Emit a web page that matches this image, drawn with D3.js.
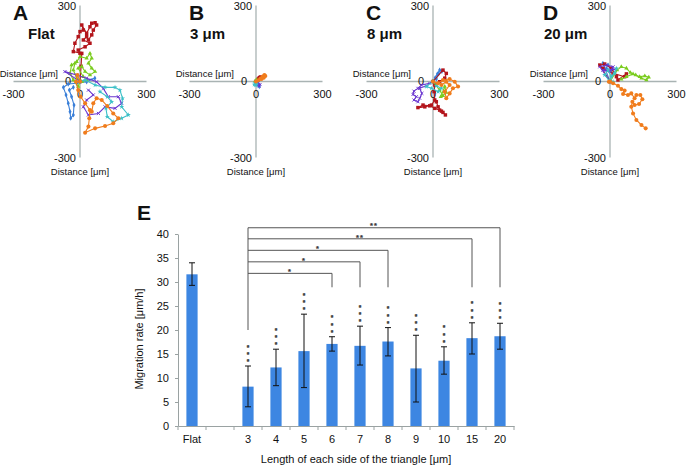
<!DOCTYPE html>
<html>
<head>
<meta charset="utf-8">
<script src="https://cdn.jsdelivr.net/npm/d3@7"></script>
<style>
  body { margin: 0; background: #fff; }
  text { font-family: Arial, "Liberation Sans", sans-serif; fill: #111; }
</style>
</head>
<body>
<svg width="687" height="467"></svg>
<script>
// trajectory panels
var panelNames = ['A', 'B', 'C', 'D'];
var panelTitles = ['Flat', '3 μm', '8 μm', '20 μm'];
var trackColors = ['#3a7fd8', '#b3151b', '#7acc1e', '#6a35d0', '#3cc0c8', '#f07c1c'];
var trackSymbols = ['diamond', 'square', 'triangle', 'x', 'star', 'circle'];

// each track starts at the origin; order: blue, red, green, purple, cyan, orange
var tracksA = [
  [[67,13],[30,-1],[-15,-7],[-53,-10],[-75,-23],[-63,-53],[-53,-86],[-45,-119],[-42,-145],[-30,-132],[-27,-93],[-38,-60],[-48,-34],[-30,-23]],
  [[5,60],[8,111],[-30,118],[-23,151],[-8,177],[0,197],[15,203],[8,223],[30,190],[45,216],[53,230],[68,232],[75,223],[60,203],[53,184],[38,164],[30,177],[15,164],[45,151],[23,137],[-8,124],[0,111]],
  [[-8,-20],[-30,6],[-45,32],[-38,65],[-15,78],[0,98],[30,92],[45,111],[53,92],[38,72],[53,52],[68,39],[45,26],[23,39],[8,59],[-8,52],[15,19],[30,6],[8,-1],[-15,13],[-30,45],[-23,72]],
  [[-68,39],[-15,26],[30,13],[75,-1],[105,-27],[128,-60],[173,-60],[188,-86],[158,-106],[113,-100],[83,-126],[38,-132],[15,-100],[30,-73],[60,-53],[38,-34]],
  [[23,6],[68,-14],[113,-23],[158,-23],[180,-34],[192,-66],[188,-100],[218,-132],[188,-145],[150,-159],[123,-139],[117,-106],[143,-80],[123,-60],[90,-40]],
  [[-12,26],[-18,-1],[-8,-34],[3,-60],[23,-86],[45,-113],[42,-145],[38,-178],[23,-202],[68,-185],[113,-176],[150,-165],[173,-145],[150,-126],[123,-97],[98,-73],[75,-66],[60,-86],[53,-119]]
];
var tracksB = [
  [[5,-8],[12,-15],[15,-20],[8,-12]],
  [[8,8],[15,15],[20,18],[12,10]],
  [[-3,3],[2,6]],
  [[10,-5],[18,-12],[14,-18],[6,-10]],
  [[-5,-6],[-8,-12],[-2,-15],[3,-8]],
  [[10,5],[20,12],[30,20],[38,26],[42,22],[35,15],[25,10]]
];
var tracksC = [
  [[10,15],[20,30],[30,45],[40,40],[25,30],[15,10]],
  [[45,45],[60,32],[53,13],[30,-1],[8,-14],[5,-40],[8,-73],[-7,-93],[-37,-100],[-68,-103],[-45,-93],[-15,-96],[8,-106],[30,-113],[45,-122],[56,-132],[38,-117],[23,-100],[15,-80]],
  [[30,-34],[45,-56],[60,-43],[53,-20],[35,-60]],
  [[-15,-7],[-52,-14],[-68,-27],[-86,-38],[-90,-51],[-75,-60],[-86,-73],[-68,-80],[-60,-66],[-50,-47],[-60,-27],[-30,-17]],
  [[-30,-20],[-7,-27],[23,-40],[38,-27],[15,-17]],
  [[23,-7],[45,6],[75,10],[98,-1],[113,-20],[90,-27],[75,-47],[60,-66],[53,-40],[75,-14],[60,-1],[38,-14]]
];
var tracksD = [
  [[-32,72],[-9,65],[6,45],[-16,52]],
  [[-46,65],[-24,69],[6,52],[29,19],[36,6],[74,30],[66,19],[14,32],[-32,52]],
  [[32,45],[51,58],[74,52],[92,35],[116,26],[134,19],[157,22],[175,17],[164,6],[142,13],[104,30],[74,19],[51,9]],
  [[-46,58],[-16,65],[14,58],[-1,39],[-32,45],[21,48]],
  [[-24,26],[-9,45],[6,19],[21,32],[29,52],[-1,6],[14,-1]],
  [[-5,-1],[14,-7],[36,-17],[51,-30],[66,-36],[59,-49],[81,-53],[96,-47],[111,-66],[119,-53],[137,-53],[146,-70],[131,-89],[111,-93],[101,-80],[96,-100],[104,-126],[119,-152],[142,-172],[161,-185]]
];
var allTracks = [tracksA, tracksB, tracksC, tracksD];

// bar chart E
var barCats = ['Flat', '', '3', '4', '5', '6', '7', '8', '9', '10', '15', '20'];
var barValues = [31.6, null, 8.2, 12.2, 15.6, 17.1, 16.7, 17.6, 12.0, 13.6, 18.3, 18.7];
var errLow = [29.3, null, 4.0, 8.4, 8.0, 15.6, 12.7, 14.6, 5.0, 10.8, 15.0, 16.0];
var errHigh = [34.0, null, 12.5, 16.0, 23.3, 18.6, 20.8, 20.5, 18.9, 16.5, 21.5, 21.4];
var sigMarks = ['', '', '***', '***', '***', '***', '***', '***', '***', '***', '***', '***'];
var yTicks = [0, 5, 10, 15, 20, 25, 30, 35, 40];
var bracketFrom = '3';
var bracketTargets = ['6', '7', '8', '15', '20'];
var bracketMarks = ['*', '*', '*', '**', '**'];
var bracketLevels = [31.8, 34.2, 36.6, 39.0, 41.3];
var bracketDropEnd = 28.9;
var bracketStartEnd = 20;

var svg = d3.select('svg');
var axisGray = '#a9b3b3';

// ---- panels A-D ----
var panelX = [80, 256, 433, 610];
panelNames.forEach(function (name, i) {
  var ox = panelX[i];
  var x = d3.scaleLinear().domain([-300, 300]).range([ox - 66.5, ox + 66.5]);
  var y = d3.scaleLinear().domain([-300, 300]).range([157.5, 5.5]);
  var g = svg.append('g');

  g.append('line')
    .attr('x1', x(-300)).attr('x2', x(300))
    .attr('y1', y(0)).attr('y2', y(0))
    .attr('stroke', axisGray).attr('stroke-width', 1.3);
  g.append('line')
    .attr('x1', x(0)).attr('x2', x(0))
    .attr('y1', y(-300)).attr('y2', y(300))
    .attr('stroke', axisGray).attr('stroke-width', 1.3);

  function label(tx, ty, s, anchor, size) {
    g.append('text').attr('x', tx).attr('y', ty)
      .attr('text-anchor', anchor).attr('font-size', size).text(s);
  }
  label(x(0) - 4, y(300) + 4.5, '300', 'end', 11);
  label(x(0) - 4, y(-300) + 4.5, '-300', 'end', 11);
  label(x(-300), y(0) + 16, '-300', 'middle', 11);
  label(x(300), y(0) + 16, '300', 'middle', 11);
  label(x(0), y(0) + 16, '0', 'middle', 11);
  label(x(0) - 9, y(0) + 3.5, '0', 'end', 11);
  label(x(0) - 22, y(0) - 5, 'Distance [μm]', 'end', 9.5);
  label(x(0), 175, 'Distance [μm]', 'middle', 9.5);

  g.append('text').attr('x', ox - 67).attr('y', 20)
    .attr('font-size', 21).attr('font-weight', 'bold').text(name);
  g.append('text').attr('x', i === 0 ? ox - 52 : ox - 66).attr('y', 39)
    .attr('font-size', 15).attr('font-weight', 'bold').text(panelTitles[i]);

  var line = d3.line().x(function (d) { return x(d[0]); }).y(function (d) { return y(d[1]); });
  allTracks[i].forEach(function (tr, k) {
    var pts = [[0, 0]].concat(tr);
    var col = trackColors[k];
    g.append('path').datum(pts).attr('d', line)
      .attr('fill', 'none').attr('stroke', col).attr('stroke-width', 1.1);
    var sym;
    if (trackSymbols[k] === 'diamond') sym = d3.symbol().type(d3.symbolDiamond).size(8);
    else if (trackSymbols[k] === 'square') sym = d3.symbol().type(d3.symbolSquare).size(12);
    else if (trackSymbols[k] === 'triangle') sym = d3.symbol().type(d3.symbolTriangle).size(8);
    else if (trackSymbols[k] === 'x') sym = d3.symbol().type(d3.symbolX).size(7);
    else if (trackSymbols[k] === 'star') sym = d3.symbol().type(d3.symbolStar).size(8);
    else sym = d3.symbol().type(d3.symbolCircle).size(13);
    g.selectAll(null).data(pts).enter().append('path')
      .attr('transform', function (d) { return 'translate(' + x(d[0]) + ',' + y(d[1]) + ')'; })
      .attr('d', sym)
      .attr('fill', trackSymbols[k] === 'x' ? 'none' : col)
      .attr('stroke', trackSymbols[k] === 'x' ? col : 'none')
      .attr('stroke-width', 1);
  });
});

// ---- panel E ----
var bx = d3.scaleBand().domain(barCats).range([178, 514]);
var by = d3.scaleLinear().domain([0, 40]).range([426, 234]);
var bw = bx.bandwidth();

var yAxisG = svg.append('g').attr('transform', 'translate(178,0)')
  .call(d3.axisLeft(by).tickValues(yTicks).tickSize(3).tickPadding(6).tickSizeOuter(0));
var xAxisG = svg.append('g').attr('transform', 'translate(0,426)')
  .call(d3.axisBottom(bx).tickSize(0).tickPadding(9).tickSizeOuter(0));
[yAxisG, xAxisG].forEach(function (a) {
  a.select('.domain').attr('stroke', '#9aa2a2');
  a.selectAll('.tick line').attr('stroke', '#9aa2a2');
  a.selectAll('.tick text').attr('font-size', 11).attr('fill', '#111')
    .attr('font-family', 'Arial, "Liberation Sans", sans-serif');
});
// category boundary ticks
var bounds = barCats.map(function (c) { return bx(c); }).concat([bx.range()[1]]);
svg.selectAll(null).data(bounds).enter().append('line')
  .attr('x1', function (d) { return d; }).attr('x2', function (d) { return d; })
  .attr('y1', 426).attr('y2', 430)
  .attr('stroke', '#9aa2a2');

var barData = barCats.map(function (c, i) {
  return { cat: c, value: barValues[i], lo: errLow[i], hi: errHigh[i], sig: sigMarks[i] };
}).filter(function (d) { return d.value !== null; });

svg.selectAll('.bar').data(barData).enter().append('rect')
  .attr('x', function (d) { return bx(d.cat) + bw * 0.3; })
  .attr('width', bw * 0.4)
  .attr('y', function (d) { return by(d.value); })
  .attr('height', function (d) { return by(0) - by(d.value); })
  .attr('fill', '#3d86e2');

var eg = svg.append('g').attr('stroke', '#111').attr('stroke-width', 1);
barData.forEach(function (d) {
  var cx = bx(d.cat) + bw / 2;
  eg.append('line').attr('x1', cx).attr('x2', cx).attr('y1', by(d.lo)).attr('y2', by(d.hi));
  eg.append('line').attr('x1', cx - 3).attr('x2', cx + 3).attr('y1', by(d.lo)).attr('y2', by(d.lo));
  eg.append('line').attr('x1', cx - 3).attr('x2', cx + 3).attr('y1', by(d.hi)).attr('y2', by(d.hi));
  // stacked asterisks
  for (var k = 0; k < d.sig.length; k++) {
    svg.append('text').attr('x', cx)
      .attr('y', by(d.hi) - 5.5 - k * 7.3 + 3.7)
      .attr('text-anchor', 'middle').attr('font-size', 6.5).attr('font-weight', 'bold')
      .style('fill', '#333').style('stroke', '#333').style('stroke-width', 0.25)
      .text('*');
  }
});

// significance brackets
var bg = svg.append('g').attr('stroke', '#555').attr('stroke-width', 1).attr('fill', 'none');
var x0 = bx(bracketFrom) + bw / 2;
bg.append('line').attr('x1', x0).attr('x2', x0)
  .attr('y1', by(bracketStartEnd)).attr('y2', by(d3.max(bracketLevels)));
bracketTargets.forEach(function (t, i) {
  var x1 = bx(t) + bw / 2;
  var yl = by(bracketLevels[i]);
  bg.append('line').attr('x1', x0).attr('x2', x1).attr('y1', yl).attr('y2', yl);
  bg.append('line').attr('x1', x1).attr('x2', x1).attr('y1', yl).attr('y2', by(bracketDropEnd));
  svg.append('text').attr('x', (x0 + x1) / 2).attr('y', yl - 3.5 + 4.2)
    .attr('text-anchor', 'middle').attr('font-size', 7.5).attr('font-weight', 'bold')
    .style('fill', '#333').style('stroke', '#333').style('stroke-width', 0.2)
    .attr('letter-spacing', 1)
    .text(bracketMarks[i]);
});

svg.append('text').attr('x', 137).attr('y', 220)
  .attr('font-size', 21).attr('font-weight', 'bold').text('E');
svg.append('text')
  .attr('transform', 'translate(143,339) rotate(-90)')
  .attr('text-anchor', 'middle').attr('font-size', 11)
  .text('Migration rate [μm/h]');
svg.append('text').attr('x', 356).attr('y', 463)
  .attr('text-anchor', 'middle').attr('font-size', 11)
  .text('Length of each side of the triangle [μm]');
</script>
</body>
</html>
